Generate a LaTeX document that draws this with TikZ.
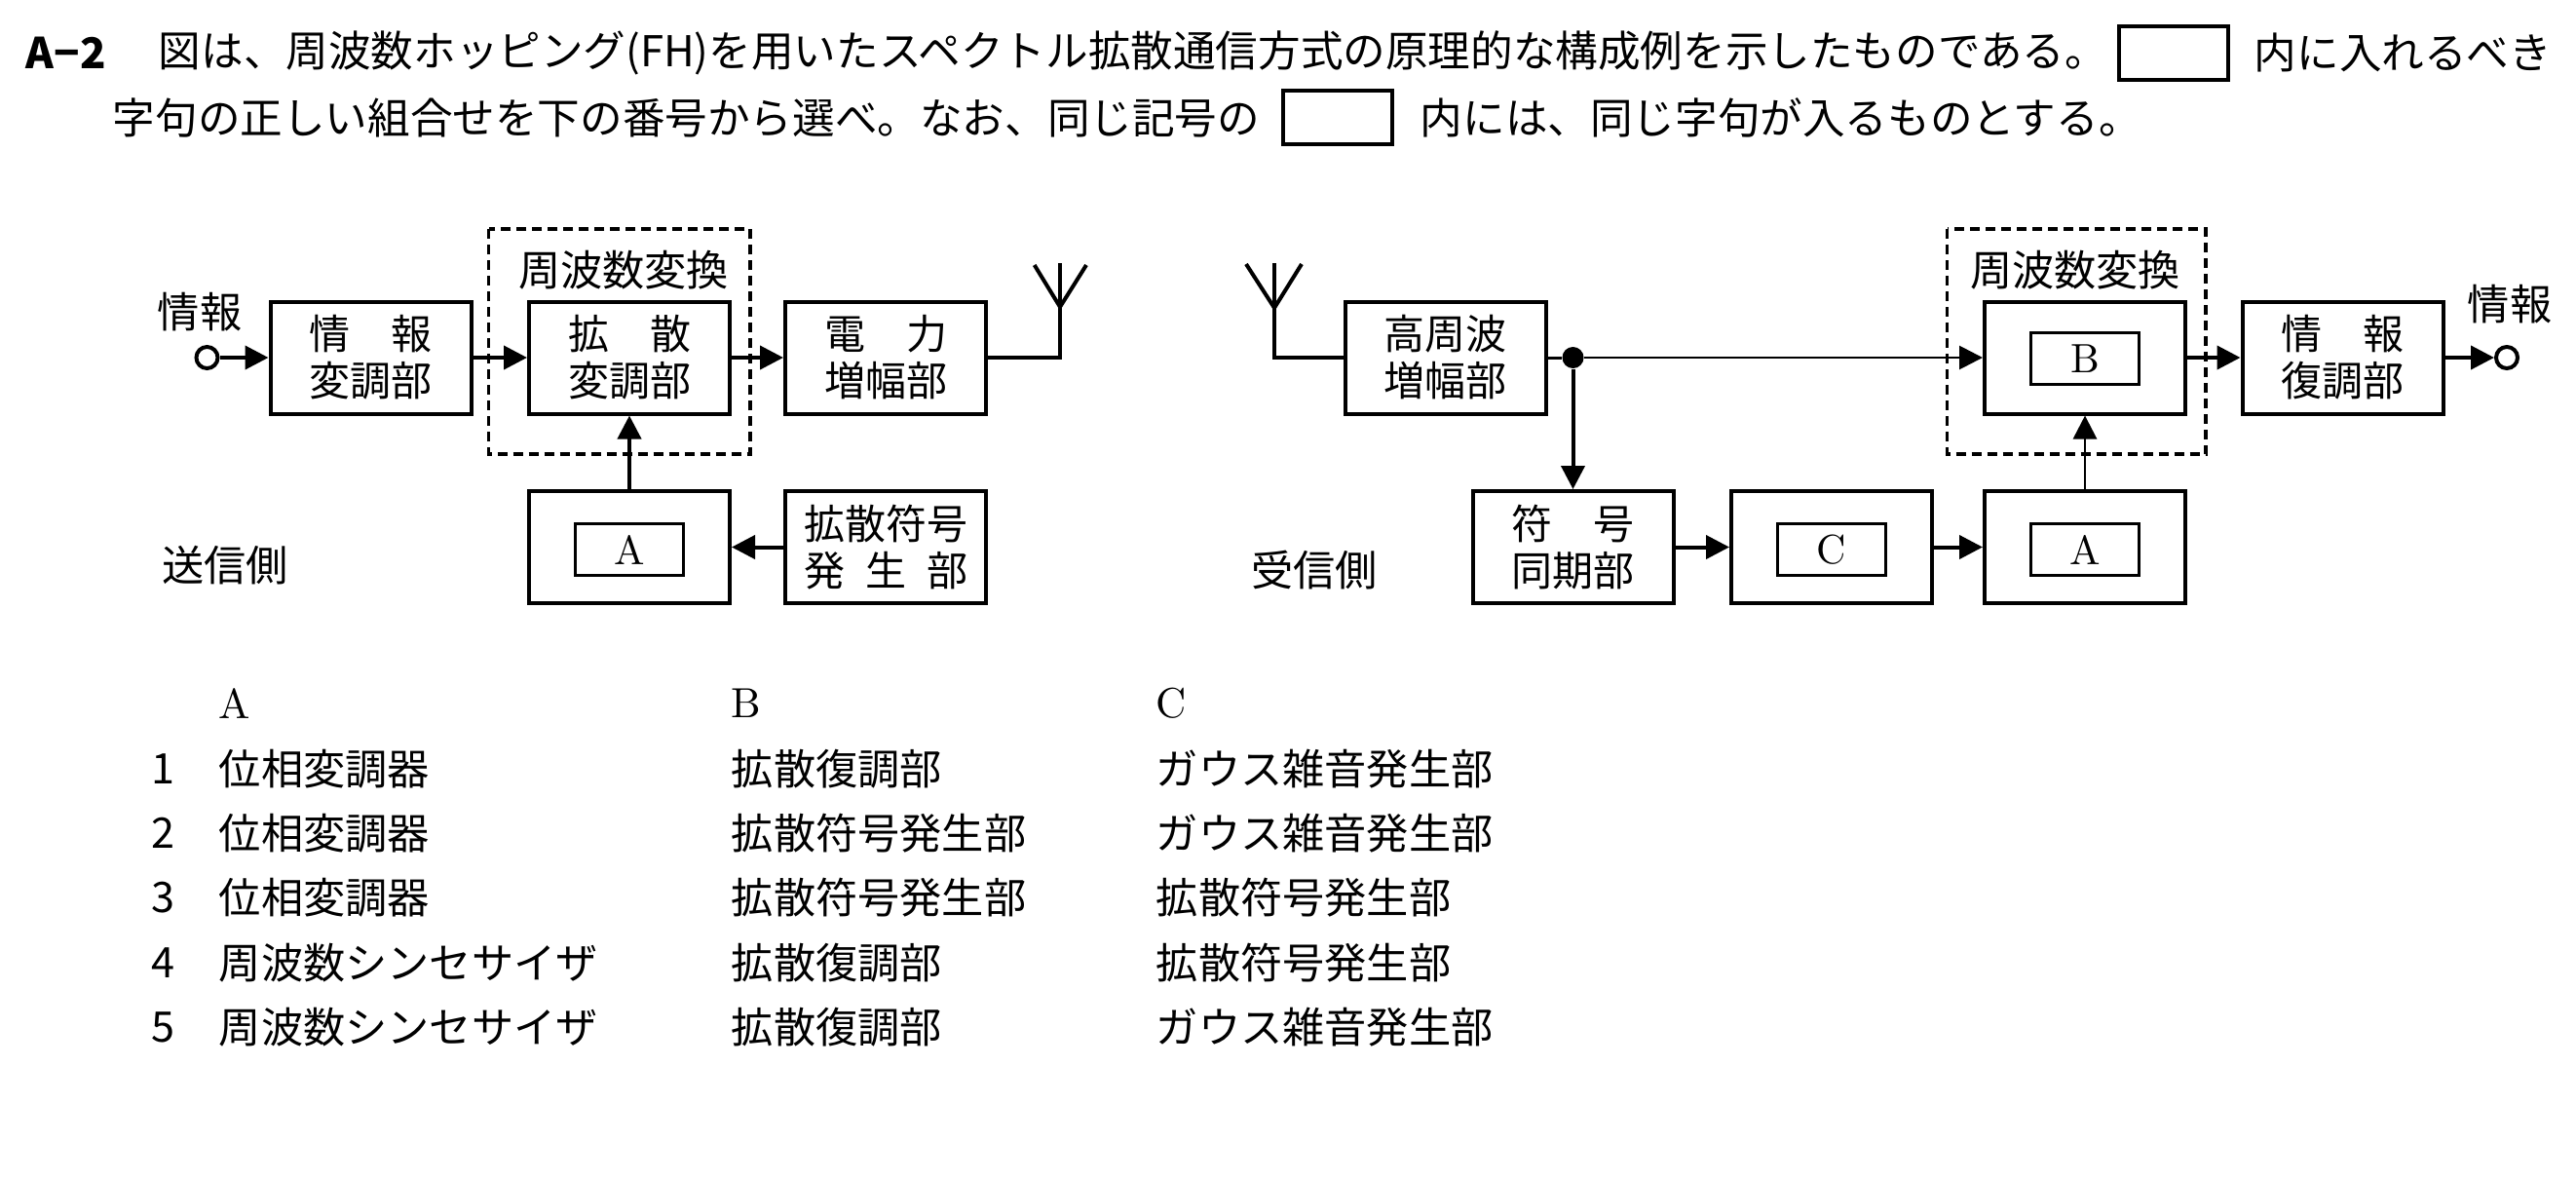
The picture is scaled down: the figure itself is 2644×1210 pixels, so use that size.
\documentclass[tikz,border=0pt]{standalone}
\usepackage{fontspec}
\usepackage{tikz}
\usetikzlibrary{arrows.meta}
\newfontfamily\jpfont{Noto Sans CJK JP}

\tikzset{
  txt/.style={inner sep=0pt, font=\jpfont\fontsize{10.8pt}{13pt}\selectfont},
  blk/.style={draw, line width=1pt, minimum width=51.5pt, minimum height=28.75pt,
    inner sep=0pt, align=center, font=\jpfont\fontsize{10.5pt}{12pt}\selectfont},
  inbox/.style={draw, line width=0.7pt, minimum width=27.75pt, minimum height=13.25pt,
    inner sep=0pt, font=\fontsize{10.5pt}{12pt}\selectfont},
  blank/.style={draw, line width=0.8pt, minimum width=28pt, minimum height=13.75pt, inner sep=0pt},
  grp/.style={draw, line width=0.8pt, dash pattern=on 2.5pt off 1.5pt},
  sig/.style={line width=1pt, -{Triangle[length=6pt,width=6pt]}},
  thinsig/.style={line width=0.7pt, -{Triangle[length=6pt,width=6pt]}},
  term/.style={circle, draw, line width=1pt, minimum size=5.5pt, inner sep=0pt},
}

\begin{document}
\begin{tikzpicture}[x=0.25pt,y=0.25pt,yscale=-1,xscale=1]
\useasboundingbox (0,0) rectangle (2644,1210);

% Text Node
\draw (26,54) node [txt, anchor=west, font=\jpfont\fontsize{10.9pt}{13pt}\selectfont\bfseries] (qno) {A−2};
% Text Node
\draw (162,54) node [txt, anchor=west, font=\jpfont\fontsize{10.9pt}{13pt}\selectfont] (qa) {図は、周波数ホッピング(FH)を用いたスペクトル拡散通信方式の原理的な構成例を示したものである。};
%Shape: Rectangle
\draw (2231,54.5) node [blank] (qbox1) {};
% Text Node
\draw (2313,54) node [txt, anchor=west, font=\jpfont\fontsize{10.9pt}{13pt}\selectfont] (qb) {内に入れるべき};
% Text Node
\draw (115,121) node [txt, anchor=west, font=\jpfont\fontsize{10.9pt}{13pt}\selectfont] (qc) {字句の正しい組合せを下の番号から選べ。なお、同じ記号の};
%Shape: Rectangle
\draw (1373,120.5) node [blank] (qbox2) {};
% Text Node
\draw (1457,121) node [txt, anchor=west, font=\jpfont\fontsize{10.9pt}{13pt}\selectfont] (qd) {内には、同じ字句が入るものとする。};

%Shape: Rectangle (transmitter)
\draw [grp] (501.6,235) rectangle (770,466);
\draw (640,277) node [txt] (sfc) {周波数変換};
\draw (380.5,367) node [blk] (smod) {情　報\\変調部};
\draw (646,367) node [blk] (sspr) {拡　散\\変調部};
\draw (909,367) node [blk] (spow) {電　力\\増幅部};
\draw (646,561.5) node [blk] (sA) {};
\draw (646,564) node [inbox] (sAin) {A};
\draw (909,561.5) node [blk] (scode) {拡散符号\\発\hspace{0.5em}生\hspace{0.5em}部};
\draw (212.5,367) node [term] (sin) {};
\draw (205,320) node [txt] (sinfo) {情報};
\draw (231,580) node [txt] (sside) {送信側};

%Straight Lines
\draw [sig] (sin) -- (smod);
\draw [sig] (smod) -- (sspr);
\draw [sig] (sspr) -- (spow);
\draw [sig] (scode) -- (sA);
\draw [sig] (sA) -- (sspr);

%Shape: Antenna (transmitter)
\coordinate (sant) at (1088,367);
\coordinate (santv) at (1088,315);
\draw [line width=1pt] (spow) -- (sant) -- (1088,270);
\draw [line width=1pt] (1061.7,272) -- (santv) -- (1115,272);

%Shape: Rectangle (receiver)
\draw [grp] (1998.5,235) rectangle (2264,466);
\draw (2130,277) node [txt] (rfc) {周波数変換};
\draw (1483.5,367) node [blk] (ramp) {高周波\\増幅部};
\draw (2140,367) node [blk] (rB) {};
\draw (2140,368) node [inbox] (rBin) {B};
\draw (2404.5,367) node [blk] (rdem) {情　報\\復調部};
\draw (1614.5,561.5) node [blk] (rsync) {符　号\\同期部};
\draw (1880,561.5) node [blk] (rC) {};
\draw (1880,564) node [inbox] (rCin) {C};
\draw (2140,561.5) node [blk] (rA) {};
\draw (2140,564) node [inbox] (rAin) {A};
\draw (1614.5,367) node [circle, fill, minimum size=5.5pt, inner sep=0pt] (rdot) {};
\draw (2573,367) node [term] (rout) {};
\draw (2576,312) node [txt] (rinfo) {情報};
\draw (1349,585) node [txt] (rside) {受信側};

%Straight Lines
\draw [line width=0.75pt] (ramp) -- (rdot);
\draw [thinsig] (rdot) -- (rB);
\draw [sig] (rdot) -- (rsync);
\draw [sig] (rsync) -- (rC);
\draw [sig] (rC) -- (rA);
\draw [thinsig] (rA) -- (rB);
\draw [sig] (rB) -- (rdem);
\draw [sig] (rdem) -- (rout);

%Shape: Antenna (receiver)
\coordinate (rant) at (1308,367);
\coordinate (rantv) at (1308,316);
\draw [line width=1pt] (ramp) -- (rant) -- (1308,270);
\draw [line width=1pt] (1279,271) -- (rantv) -- (1336,271);

% Text Node (answer table)
\draw (224,722) node [anchor=west, inner sep=0pt, font=\fontsize{10.8pt}{13pt}\selectfont] (ha) {A};
\draw (750,722) node [anchor=west, inner sep=0pt, font=\fontsize{10.8pt}{13pt}\selectfont] (hb) {B};
\draw (1186,722) node [anchor=west, inner sep=0pt, font=\fontsize{10.8pt}{13pt}\selectfont] (hc) {C};

\draw (167,789) node [txt] (n1) {1};
\draw (224,789) node [txt, anchor=west] (a1) {位相変調器};
\draw (750,789) node [txt, anchor=west] (b1) {拡散復調部};
\draw (1186,789) node [txt, anchor=west] (c1) {ガウス雑音発生部};

\draw (167,855) node [txt] (n2) {2};
\draw (224,855) node [txt, anchor=west] (a2) {位相変調器};
\draw (750,855) node [txt, anchor=west] (b2) {拡散符号発生部};
\draw (1186,855) node [txt, anchor=west] (c2) {ガウス雑音発生部};

\draw (167,921) node [txt] (n3) {3};
\draw (224,921) node [txt, anchor=west] (a3) {位相変調器};
\draw (750,921) node [txt, anchor=west] (b3) {拡散符号発生部};
\draw (1186,921) node [txt, anchor=west] (c3) {拡散符号発生部};

\draw (167,988) node [txt] (n4) {4};
\draw (224,988) node [txt, anchor=west] (a4) {周波数シンセサイザ};
\draw (750,988) node [txt, anchor=west] (b4) {拡散復調部};
\draw (1186,988) node [txt, anchor=west] (c4) {拡散符号発生部};

\draw (167,1054) node [txt] (n5) {5};
\draw (224,1054) node [txt, anchor=west] (a5) {周波数シンセサイザ};
\draw (750,1054) node [txt, anchor=west] (b5) {拡散復調部};
\draw (1186,1054) node [txt, anchor=west] (c5) {ガウス雑音発生部};

\end{tikzpicture}
\end{document}
